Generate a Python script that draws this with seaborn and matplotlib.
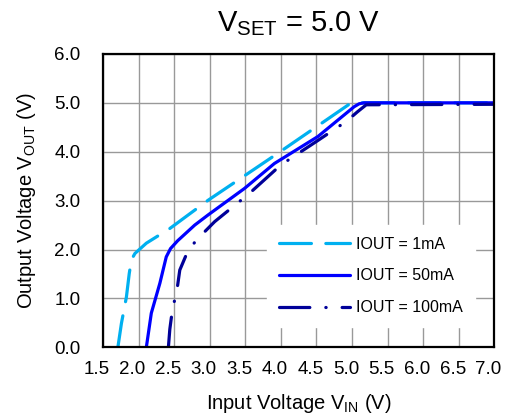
import matplotlib

matplotlib.use('agg')
import matplotlib.pyplot as plt
import matplotlib.transforms as mtransforms
import pandas as pd
import seaborn as sns

# values
vin_1ma = [1.71, 1.76, 1.83, 1.87, 1.90, 1.95, 2.11, 2.44, 2.98, 3.44, 3.96, 4.47, 4.99, 5.20, 7.00]
vout_1ma = [0.00, 0.49, 1.03, 1.51, 1.79, 1.92, 2.13, 2.43, 3.01, 3.46, 3.97, 4.48, 5.00, 5.00, 5.00]

vin_50ma = [2.11, 2.18, 2.30, 2.39, 2.45, 2.55, 2.79, 2.98, 3.49, 3.91, 4.52, 5.03, 5.10, 5.17, 7.00]
vout_50ma = [0.00, 0.70, 1.31, 1.85, 2.02, 2.18, 2.50, 2.71, 3.25, 3.76, 4.31, 4.92, 4.98, 5.00, 5.00]

vin_100ma = [2.42, 2.44, 2.47, 2.55, 2.58, 2.67, 2.79, 2.92, 3.07, 3.56, 4.00, 4.50, 4.92, 5.08, 5.20, 7.00]
vout_100ma = [0.00, 0.37, 0.70, 1.27, 1.58, 1.89, 2.15, 2.35, 2.57, 3.15, 3.73, 4.21, 4.62, 4.82, 4.96, 4.97]

labels = ['IOUT = 1mA', 'IOUT = 50mA', 'IOUT = 100mA']
x_ticks = [1.5, 2.0, 2.5, 3.0, 3.5, 4.0, 4.5, 5.0, 5.5, 6.0, 6.5, 7.0]
y_ticks = [0.0, 1.0, 2.0, 3.0, 4.0, 5.0, 6.0]

sns.set_style('white')
plt.rcParams['font.family'] = ['Liberation Sans', 'DejaVu Sans']
plt.rcParams['mathtext.fontset'] = 'custom'
plt.rcParams['mathtext.rm'] = 'Liberation Sans'
plt.rcParams['text.color'] = 'black'
plt.rcParams['axes.labelcolor'] = 'black'
plt.rcParams['xtick.color'] = 'black'
plt.rcParams['ytick.color'] = 'black'

fig = plt.figure(figsize=(5.07, 4.18), dpi=100)
ax = fig.add_axes([0.203, 0.169, 0.772, 0.702])

series = [
    (vin_1ma, vout_1ma, '#00B0F0', (0, (10, 4.5))),
    (vin_50ma, vout_50ma, '#0000FF', '-'),
    (vin_100ma, vout_100ma, '#000099', (0, (9.5, 5, 0.1, 5))),
]
for (xs, ys, color, ls), label in zip(series, labels):
    df = pd.DataFrame({'vin': xs, 'vout': ys})
    sns.lineplot(data=df, x='vin', y='vout', ax=ax, sort=False, color=color,
                 linestyle=ls, linewidth=2.3, label=label,
                 dash_capstyle='round', solid_capstyle='round')

ax.set_xlim(1.5, 7.0)
ax.set_ylim(0.0, 6.0)
ax.set_xticks(x_ticks)
ax.set_yticks(y_ticks)
ax.set_xticklabels([f'{v:.1f}' for v in x_ticks])
ax.set_yticklabels([f'{v:.1f}' for v in y_ticks])
ax.tick_params(axis='x', length=0, pad=10, labelsize=13.5)
ax.tick_params(axis='y', length=0, pad=16, labelsize=13.5)
# x labels in the reference sit a few pixels left of their grid lines
shift = mtransforms.ScaledTranslation(-6 / 100, 0, fig.dpi_scale_trans)
for lab in ax.get_xticklabels():
    lab.set_transform(lab.get_transform() + shift)
ax.grid(True, color='#999999', linewidth=1.0)
for sp in ax.spines.values():
    sp.set_color('black')
    sp.set_linewidth(1.6)

ax.set_xlabel(r'Input Voltage V$_{\mathregular{IN}}$ (V)', fontsize=14.5, labelpad=10)
ax.set_ylabel(r'Output Voltage V$_{\mathregular{OUT}}$ (V)', fontsize=14.5)
ax.yaxis.set_label_coords(-0.165, 0.5)
ax.set_title(r'V$_{\mathregular{SET}}$ = 5.0 V', fontsize=21, pad=16)

leg = ax.legend(loc='lower right', bbox_to_anchor=(0.95, 0.069), borderaxespad=0,
                frameon=True, fancybox=False, framealpha=1, edgecolor='white',
                fontsize=11.5, handlelength=4.4, handletextpad=0.4, labelspacing=1.05,
                borderpad=0.75)

plt.savefig('out.png', dpi=100)
plt.close()
